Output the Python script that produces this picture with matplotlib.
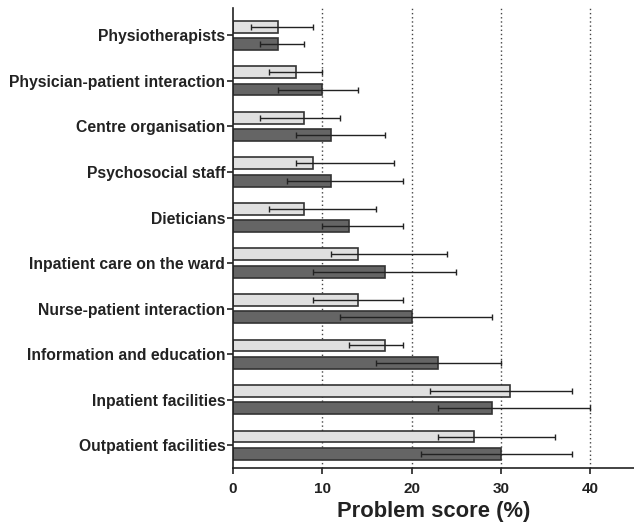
import matplotlib
matplotlib.use("Agg")
import matplotlib.pyplot as plt
import numpy as np

categories = ["Physiotherapists", "Physician-patient interaction", "Centre organisation",
              "Psychosocial staff", "Dieticians", "Inpatient care on the ward",
              "Nurse-patient interaction", "Information and education",
              "Inpatient facilities", "Outpatient facilities"]

light_vals = [5, 7, 8, 9, 8, 14, 14, 17, 31, 27]
light_lo   = [2, 4, 3, 7, 4, 11, 9, 13, 22, 23]
light_hi   = [9, 10, 12, 18, 16, 24, 19, 19, 38, 36]

dark_vals = [5, 10, 11, 11, 13, 17, 20, 23, 29, 30]
dark_lo   = [3, 5, 7, 6, 10, 9, 12, 16, 23, 21]
dark_hi   = [8, 14, 17, 19, 19, 25, 29, 30, 40, 38]

xticks = [0, 10, 20, 30, 40]

plt.rcParams['font.family'] = ['Liberation Sans', 'DejaVu Sans']
fig = plt.figure(figsize=(6.34, 5.22), dpi=100)
ax = fig.add_axes([233/634, 54/522, 402/634, 460/522])

y = np.arange(len(categories))
off = 0.19
h = 0.26
lv = np.array(light_vals); dv = np.array(dark_vals)
ax.barh(y - off, lv, height=h, color='#e0e0e0', edgecolor='#333333', linewidth=1.2, zorder=2)
ax.barh(y + off, dv, height=h, color='#656565', edgecolor='#333333', linewidth=1.2, zorder=2)

lerr = np.array([lv - np.array(light_lo), np.array(light_hi) - lv])
derr = np.array([dv - np.array(dark_lo), np.array(dark_hi) - dv])
ax.errorbar(lv, y - off, xerr=lerr, fmt='none', ecolor='#222222', elinewidth=1.0, capsize=2, capthick=1.0, zorder=3)
ax.errorbar(dv, y + off, xerr=derr, fmt='none', ecolor='#222222', elinewidth=1.0, capsize=2, capthick=1.0, zorder=3)

for xv in [10, 20, 30, 40]:
    ax.axvline(xv, color='#444444', linestyle=(0, (1, 2)), linewidth=1.0, zorder=1)

ax.set_xlim(0, 45)
ax.set_ylim(9.5, -0.6)
ax.set_yticks(y)
ax.set_yticklabels(categories, fontsize=11.3, fontweight='bold', color='#222222')
ax.set_xticks(xticks)
ax.set_xticklabels([str(t) for t in xticks], fontsize=11, fontweight='bold', color='#222222')
ax.set_xlabel("Problem score (%)", fontsize=15.8, fontweight='bold', labelpad=4, color='#222222')
ax.spines['top'].set_visible(False)
ax.spines['right'].set_visible(False)
for s in ['left', 'bottom']:
    ax.spines[s].set_linewidth(1.2)
    ax.spines[s].set_color('#222222')
ax.tick_params(axis='both', direction='out', length=4, width=1.2, color='#222222')
ax.tick_params(axis='y', pad=1.5)
ax.tick_params(axis='x', pad=6)

fig.savefig("out.png", dpi=100)
